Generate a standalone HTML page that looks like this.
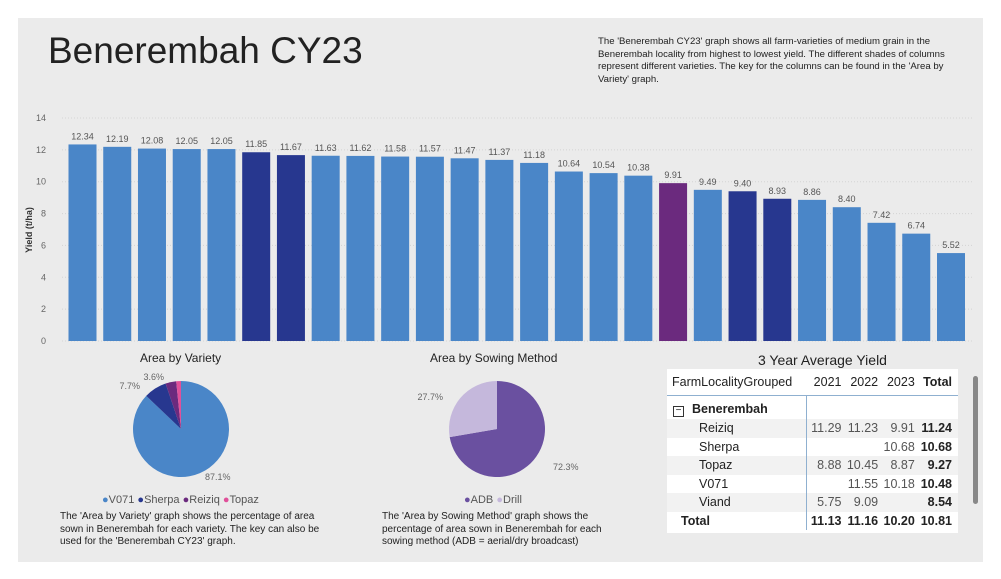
<!DOCTYPE html>
<html><head><meta charset="utf-8">
<style>
body{margin:0;width:1001px;height:579px;background:#fff;font-family:"Liberation Sans",sans-serif;overflow:hidden;position:relative}
#panel{position:absolute;left:18px;top:18px;width:965px;height:544px;background:#ebebeb}
.t{position:absolute;color:#222}
table{border-collapse:collapse;font-size:12.5px;color:#222}
td{padding-top:0;padding-bottom:0}
</style></head><body>
<div id="panel"></div>
<div class="t" style="left:48px;top:30px;font-size:37px;color:#222">Benerembah CY23</div>
<div class="t" style="left:598px;top:36px;width:368px;font-size:9.6px;line-height:12.5px">The 'Benerembah CY23' graph shows all farm-varieties of medium grain in the Benerembah locality from highest to lowest yield. The different shades of columns represent different varieties. The key for the columns can be found in the 'Area by Variety' graph.</div>
<svg id="bar" width="1001" height="579" style="position:absolute;left:0;top:0"></svg>

<div class="t" style="left:140px;top:351px;font-size:12px">Area by Variety</div>
<div class="t" style="left:430px;top:351px;font-size:12px">Area by Sowing Method</div>
<div class="t" style="left:102px;top:494px;font-size:11px;color:#555"><span style="color:#4a86c8">●</span>V071 <span style="color:#27378f">●</span>Sherpa <span style="color:#6b2a7e">●</span>Reiziq <span style="color:#e0509a">●</span>Topaz</div>
<div class="t" style="left:464px;top:494px;font-size:11px;color:#555"><span style="color:#6a50a0">●</span>ADB <span style="color:#c5b8dc">●</span>Drill</div>
<div class="t" style="left:60px;top:511px;width:260px;font-size:10px;line-height:12.5px">The 'Area by Variety' graph shows the percentage of area sown in Benerembah for each variety. The key can also be used for the 'Benerembah CY23' graph.</div>
<div class="t" style="left:382px;top:511px;width:240px;font-size:10px;line-height:12.5px">The 'Area by Sowing Method' graph shows the percentage of area sown in Benerembah for each sowing method (ADB = aerial/dry broadcast)</div>

<div class="t" style="left:758px;top:352px;font-size:14px">3 Year Average Yield</div>
<div style="position:absolute;left:667px;top:369px;width:291px;height:164px;background:#fff;overflow:hidden">
<table style="width:291px">
<tr style="height:26px;border-bottom:1px solid #8fb0d0"><td style="padding-left:5px">FarmLocalityGrouped</td><td align="right">2021</td><td align="right">2022</td><td align="right">2023</td><td align="right" style="padding-right:6px"><b>Total</b></td></tr>
<tr style="height:5px"><td></td><td colspan="4" style="border-left:1px solid #8fb0d0"></td></tr>
<tr style="height:19px"><td style="padding-left:6px"><span style="display:inline-block;width:9px;height:9px;border:1px solid #333;font-size:10px;line-height:8px;text-align:center;margin-right:8px">−</span><b>Benerembah</b></td><td colspan="4" style="border-left:1px solid #8fb0d0"></td></tr>
<tr style="height:18.5px;background:#f2f2f2"><td style="padding-left:32px">Reiziq</td><td align="right" style="border-left:1px solid #8fb0d0;color:#555">11.29</td><td align="right" style="color:#555">11.23</td><td align="right" style="color:#555">9.91</td><td align="right" style="padding-right:6px"><b>11.24</b></td></tr>
<tr style="height:18.5px"><td style="padding-left:32px">Sherpa</td><td style="border-left:1px solid #8fb0d0"></td><td></td><td align="right" style="color:#555">10.68</td><td align="right" style="padding-right:6px"><b>10.68</b></td></tr>
<tr style="height:18.5px;background:#f2f2f2"><td style="padding-left:32px">Topaz</td><td align="right" style="border-left:1px solid #8fb0d0;color:#555">8.88</td><td align="right" style="color:#555">10.45</td><td align="right" style="color:#555">8.87</td><td align="right" style="padding-right:6px"><b>9.27</b></td></tr>
<tr style="height:18.5px"><td style="padding-left:32px">V071</td><td style="border-left:1px solid #8fb0d0"></td><td align="right" style="color:#555">11.55</td><td align="right" style="color:#555">10.18</td><td align="right" style="padding-right:6px"><b>10.48</b></td></tr>
<tr style="height:18.5px;background:#f2f2f2"><td style="padding-left:32px">Viand</td><td align="right" style="border-left:1px solid #8fb0d0;color:#555">5.75</td><td align="right" style="color:#555">9.09</td><td></td><td align="right" style="padding-right:6px"><b>8.54</b></td></tr>
<tr style="height:18px"><td style="padding-left:14px"><b>Total</b></td><td align="right" style="border-left:1px solid #8fb0d0"><b>11.13</b></td><td align="right"><b>11.16</b></td><td align="right"><b>10.20</b></td><td align="right" style="padding-right:6px"><b>10.81</b></td></tr>
</table></div>
<div style="position:absolute;left:973px;top:376px;width:5px;height:128px;background:#888;border-radius:3px"></div>

<script>
const yields=[12.34,12.19,12.08,12.05,12.05,11.85,11.67,11.63,11.62,11.58,11.57,11.47,11.37,11.18,10.64,10.54,10.38,9.91,9.49,9.40,8.93,8.86,8.40,7.42,6.74,5.52];
const varieties=["V071","V071","V071","V071","V071","Sherpa","Sherpa","V071","V071","V071","V071","V071","V071","V071","V071","V071","V071","Reiziq","V071","Sherpa","Sherpa","V071","V071","V071","V071","V071"];
const yTicks=[0,2,4,6,8,10,12,14];
const varietyShares=[87.1,7.7,3.6,1.6];
const varietyNames=["V071","Sherpa","Reiziq","Topaz"];
const sowingShares=[72.3,27.7];
const sowingNames=["ADB","Drill"];
const colorOf={V071:"#4a86c8",Sherpa:"#27378f",Reiziq:"#6b2a7e",Topaz:"#e0509a",ADB:"#6a50a0",Drill:"#c5b8dc"};
const NS="http://www.w3.org/2000/svg";
const svg=document.getElementById('bar');
function mk(t,a,p){const e=document.createElementNS(NS,t);for(const k in a)e.setAttribute(k,a[k]);(p||svg).appendChild(e);return e;}
const y0=341,pxPer=(341-118)/14;
const yS=v=>y0-v*pxPer;
const xS=i=>82.5+i*34.74;
yTicks.forEach(t=>{
 const l=mk('line',{x1:62,x2:972,y1:yS(t),y2:yS(t),stroke:'#d4d4d4','stroke-dasharray':'1 2'});
 
 
 const tx=mk('text',{x:46,y:yS(t)+3,'font-size':9,fill:'#666','text-anchor':'end'});tx.textContent=t;
 
 
});
const yt=mk('text',{x:0,y:0,'font-size':9,fill:'#333','font-weight':'bold','text-anchor':'middle',transform:'translate(32,230) rotate(-90)'});yt.textContent='Yield (t/ha)';


yields.forEach((v,i)=>{
 const r=mk('rect',{x:xS(i)-14,y:yS(v),width:28,height:v*pxPer,fill:colorOf[varieties[i]]});
 
 
 const t=mk('text',{x:xS(i),y:yS(v)-5,'font-size':9,fill:'#555','text-anchor':'middle'});t.textContent=v.toFixed(2);
 
 
});
function pie(cx,cy,r,vals,names,name){
 let a=0;const tot=vals.reduce((s,v)=>s+v,0);
 vals.forEach((v,i)=>{
  const a1=a+v/tot*2*Math.PI;
  const p=[cx+r*Math.sin(a),cy-r*Math.cos(a)],q=[cx+r*Math.sin(a1),cy-r*Math.cos(a1)];
  const s=mk('path',{d:`M${cx},${cy}L${p[0]},${p[1]}A${r},${r} 0 ${a1-a>Math.PI?1:0} 1 ${q[0]},${q[1]}Z`,fill:colorOf[names[i]]});
  
  
  a=a1;
 });
}
pie(181,429,48,varietyShares,varietyNames,'variety');
pie(497,429,48,sowingShares,sowingNames,'sowing');
const labels=[[205,480,"87.1%",'start'],[140,389,"7.7%",'end'],[164,380,"3.6%",'end'],[553,470,"72.3%",'start'],[443,400,"27.7%",'end']];
labels.forEach(l=>{const t=mk('text',{x:l[0],y:l[1],'font-size':9,fill:'#666','text-anchor':l[3]});t.textContent=l[2];
 
 });
</script>
</body></html>
